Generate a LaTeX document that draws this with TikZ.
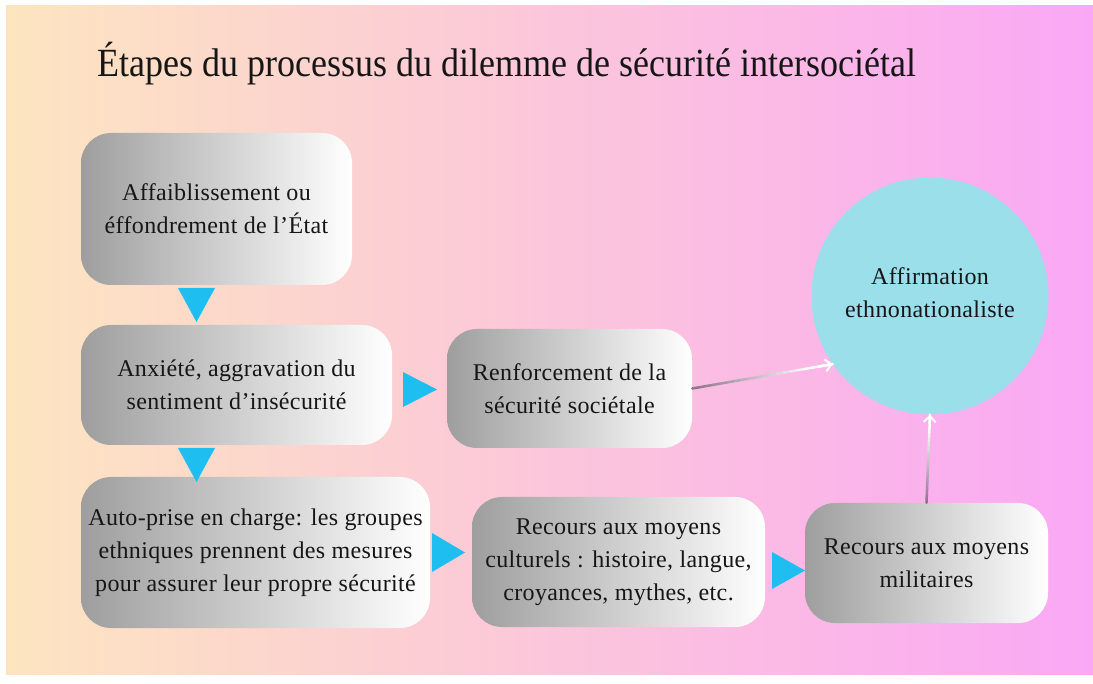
\documentclass[tikz,border=0pt]{standalone}
\usepackage{fontspec}
\setmainfont{Liberation Serif}
\newfontfamily\titlefont[FakeStretch=0.9]{Liberation Serif}
\newfontfamily\boxfont[LetterSpace=1.5]{Liberation Serif}
\usetikzlibrary{calc,arrows.meta}
\definecolor{bgL}{RGB}{253,229,192}
\definecolor{bgM}{RGB}{255,204,214}
\definecolor{bgR}{RGB}{250,168,245}
\definecolor{boxL}{RGB}{158,158,158}
\definecolor{triC}{RGB}{30,190,240}
\definecolor{circC}{RGB}{155,223,235}
\definecolor{txt}{RGB}{22,22,22}
\definecolor{lineL}{RGB}{140,118,140}
\newcommand{\gradconn}[2]{%
  \foreach \i in {0,...,19}{%
    \pgfmathsetmacro\s{\i/20}%
    \pgfmathsetmacro\e{(\i+1)/20}%
    \pgfmathsetmacro\p{max(0,100-6*\i)}%
    \draw[conn, lineL!\p!white] ($(#1)!\s!(#2)$) -- ($(#1)!\e!(#2)$);
  }%
  \draw[conn, white, -{Straight Barb[length=6pt,width=12pt,line width=2pt]}] ($(#1)!0.9!(#2)$) -- (#2);
}
\begin{document}
\begin{tikzpicture}[x=1pt,y=-1pt,
  stepbox/.style={rounded corners=30pt, left color=boxL, right color=white,
    draw=none, align=center, font=\boxfont\fontsize{24}{33}\selectfont, text=txt, inner sep=0pt},
  goal/.style={circle, fill=circC, draw=none, align=center,
    font=\boxfont\fontsize{24}{33}\selectfont, text=txt, inner sep=0pt, minimum size=237pt},
  tri/.style={fill=triC, draw=none},
  conn/.style={line width=2.5pt, line cap=round}]
\useasboundingbox (0,0) rectangle (1093,684);
\fill[white] (0,0) rectangle (1093,684);
\shade[left color=bgL, middle color=bgM, right color=bgR] (6,6) rectangle (1093,674);

\node[anchor=base west, font=\titlefont\fontsize{40}{46}\selectfont, text=txt, inner sep=0pt] (title) at (97,77)
  {Étapes du processus du dilemme de sécurité intersociétal};

\node[stepbox, minimum width=271pt, minimum height=152pt] (b1) at (216.5,209)
  {Affaiblissement ou\\éffondrement de l’État};
\node[stepbox, minimum width=311pt, minimum height=120pt] (b2) at (236.5,385)
  {Anxiété, aggravation du\\sentiment d’insécurité};
\node[stepbox, minimum width=245pt, minimum height=119pt] (renf) at (569.5,388.5)
  {Renforcement de la\\sécurité sociétale};
\node[stepbox, minimum width=349pt, minimum height=151pt] (b3) at (255.5,552.5)
  {Auto-prise en charge: les groupes\\ethniques prennent des mesures\\pour assurer leur propre sécurité};
\node[stepbox, minimum width=293pt, minimum height=130pt] (cult) at (618.5,562)
  {Recours aux moyens\\culturels : histoire, langue,\\croyances, mythes, etc.};
\node[stepbox, minimum width=243pt, minimum height=120pt] (mil) at (926.5,563)
  {Recours aux moyens\\militaires};
\node[goal] (circ) at (930,296) {};
\node[align=center, font=\boxfont\fontsize{24}{33}\selectfont, text=txt, inner sep=0pt] (circtext) at (930,293)
  {Affirmation\\ethnonationaliste};

\fill[tri] (178,288) -- (215,288) -- (196.5,322) -- cycle;
\fill[tri] (178,448) -- (215,448) -- (196.5,482) -- cycle;
\fill[tri] (403,372) -- (437,389.5) -- (403,407) -- cycle;
\fill[tri] (432,533) -- (465,552.5) -- (432,572) -- cycle;
\fill[tri] (772,552) -- (805,570.5) -- (772,589) -- cycle;

\gradconn{renf.east}{circ.215}
\gradconn{mil.north}{circ.south}
\end{tikzpicture}
\end{document}
